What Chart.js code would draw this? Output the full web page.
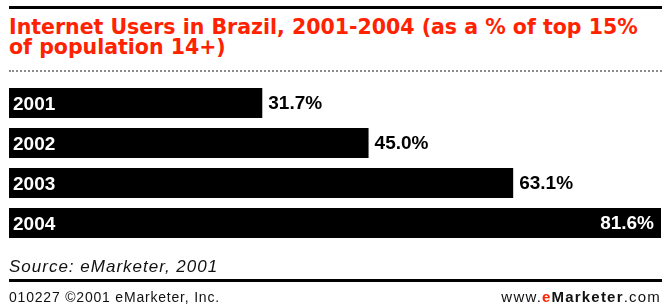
<!DOCTYPE html>
<html>
<head>
<meta charset="utf-8">
<script src="https://cdn.jsdelivr.net/npm/chart.js@4.4.0/dist/chart.umd.min.js"></script>
<style>
  body { margin: 0; background: #fff; }
  #wrap { position: relative; width: 662px; height: 307px; overflow: hidden; font-family: "Liberation Sans", Arial, sans-serif; }
  #chart { position: absolute; left: 0; top: 0; }
  .rule { position: absolute; left: 9px; right: 0; }
  #topRule { top: 6px; height: 3px; background: #000; }
  #dotRule { top: 70px; height: 0; border-top: 2px dotted #8a8a8a; }
  #bottomRule { top: 279px; height: 3px; background: #000; }
  #title { position: absolute; left: 9px; top: 17px; color: #ff2200; font-family: "DejaVu Sans", sans-serif; font-weight: bold; font-size: 20.5px; line-height: 20px; white-space: nowrap; }
  #source { position: absolute; left: 9px; top: 257px; font-style: italic; font-size: 17px; line-height: 20px; color: #111; letter-spacing: 1px; }
  #copy { position: absolute; left: 9px; top: 289px; font-size: 14px; line-height: 16px; color: #111; letter-spacing: 0.8px; }
  #site { position: absolute; right: 1px; top: 289px; font-size: 15px; line-height: 16px; color: #111; letter-spacing: 1.2px; }
  #site b { font-weight: bold; }
  #site .e { color: #ff2200; font-weight: bold; }
</style>
</head>
<body>
<div id="wrap">
  <div class="rule" id="topRule"></div>
  <div id="title">Internet Users in Brazil, 2001-2004 (as a % of top 15%<br>of population 14+)</div>
  <div class="rule" id="dotRule"></div>
  <canvas id="chart" width="662" height="307"></canvas>
  <div id="source">Source: eMarketer, 2001</div>
  <div class="rule" id="bottomRule"></div>
  <div id="copy">010227 ©2001 eMarketer, Inc.</div>
  <div id="site">www.<span class="e">e</span><b>Marketer</b>.com</div>
</div>
<script>
// data
const years = ["2001", "2002", "2003", "2004"];
const userShare = [31.7, 45.0, 63.1, 81.6];
const valueLabels = ["31.7%", "45.0%", "63.1%", "81.6%"];

// value labels next to (or inside) each bar
const valueLabelPlugin = {
  id: "valueLabels",
  afterDatasetsDraw(chart) {
    const ctx = chart.ctx;
    const area = chart.chartArea;
    const meta = chart.getDatasetMeta(0);
    ctx.save();
    ctx.font = "bold 19px 'Liberation Sans', Arial, sans-serif";
    ctx.textBaseline = "middle";
    meta.data.forEach((bar, i) => {
      const text = valueLabels[i];
      const w = ctx.measureText(text).width;
      if (bar.x + 6 + w > area.right) {
        ctx.fillStyle = "#fff";
        ctx.textAlign = "right";
        ctx.fillText(text, bar.x - 7, bar.y + 1);
      } else {
        ctx.fillStyle = "#000";
        ctx.textAlign = "left";
        ctx.fillText(text, bar.x + 6, bar.y + 1);
      }
    });
    ctx.restore();
  },
};

var ctx = document.getElementById("chart").getContext("2d");
var usersChart = new Chart(ctx, {
  type: "bar",
  data: {
    labels: years,
    datasets: [
      {
        data: userShare,
        backgroundColor: "#000",
        borderWidth: 0,
        barPercentage: 1,
        categoryPercentage: 0.75,
      },
    ],
  },
  options: {
    indexAxis: "y",
    responsive: false,
    animation: false,
    layout: { padding: { left: 1, right: 1, top: 83, bottom: 64 } },
    plugins: { legend: { display: false }, tooltip: { enabled: false } },
    scales: {
      x: { display: false, min: 0, max: 81.6 },
      y: {
        grid: { display: false, drawTicks: false },
        border: { display: false },
        ticks: {
          z: 1,
          mirror: true,
          padding: 4,
          labelOffset: 1.5,
          color: "#fff",
          font: { family: "'Liberation Sans', Arial, sans-serif", size: 19, weight: "bold" },
        },
      },
    },
  },
  plugins: [valueLabelPlugin],
});
</script>
</body>
</html>
